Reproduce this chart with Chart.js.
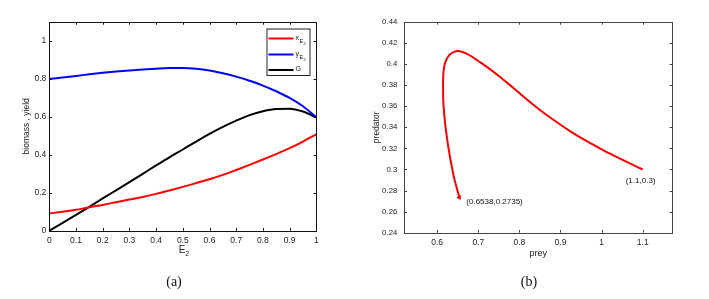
<!DOCTYPE html>
<html><head><meta charset="utf-8">
<script src="https://cdn.jsdelivr.net/npm/chart.js@4.4.0/dist/chart.umd.min.js"></script>
<style>
html,body{margin:0;padding:0;background:#fff;}
#wrap{position:relative;width:709px;height:299px;overflow:hidden;background:#fff;}
canvas{position:absolute;top:0;}
.cap{position:absolute;font-family:'Liberation Serif','Times New Roman',serif;font-size:14px;color:#111;top:274px;width:40px;text-align:center;}
</style></head><body>
<div id="wrap">
<canvas id="c1" width="355" height="299" style="left:0"></canvas>
<canvas id="c2" width="354" height="299" style="left:355px"></canvas>
<div class="cap" style="left:154px">(a)</div>
<div class="cap" style="left:509px">(b)</div>
</div>
<script>
// ---------- Panel (a) data ----------
const E2 = [0,0.05,0.1,0.15,0.2,0.25,0.3,0.35,0.4,0.45,0.5,0.55,0.6,0.65,0.7,0.75,0.8,0.85,0.9,0.95,1];
const xE2 = [0.091,0.100,0.110,0.124,0.136,0.150,0.164,0.178,0.194,0.212,0.231,0.251,0.271,0.294,0.320,0.347,0.375,0.404,0.435,0.470,0.508];
const yE2 = [0.800,0.808,0.816,0.824,0.832,0.839,0.845,0.850,0.854,0.857,0.857,0.853,0.844,0.830,0.812,0.790,0.765,0.735,0.700,0.656,0.598];
const G   = [0.000,0.041,0.083,0.126,0.170,0.213,0.256,0.300,0.344,0.387,0.428,0.470,0.510,0.547,0.580,0.609,0.630,0.642,0.643,0.628,0.598];
const legendMain = ['x','y','G'];
const legendSub  = ['E','E',''];
const legendSub2 = ['2','2',''];
const xTicksA = [0,0.1,0.2,0.3,0.4,0.5,0.6,0.7,0.8,0.9,1];
const yTicksA = [0,0.2,0.4,0.6,0.8,1];

// ---------- Panel (b) data ----------
const prey = [1.1,1.075,1.05,1.025,1.0,0.975,0.95,0.925,0.9,0.875,0.85,0.825,0.8,0.775,0.75,0.725,0.7,
  0.685,0.67,0.66,0.65,0.641,0.633,0.626,0.621,0.6175,0.6155,0.6146,0.6143,0.6144,0.6148,0.6158,0.6172,
  0.619,0.621,0.6235,0.626,0.629,0.632,0.6355,0.639,0.643,0.648,0.6538];
const predator = [0.3000,0.3046,0.3093,0.3142,0.3192,0.3245,0.3300,0.3360,0.3425,0.3493,0.3565,0.3643,0.3725,0.3808,0.3888,0.3962,0.4030,
  0.4070,0.4102,0.4117,0.4124,0.4117,0.4098,0.4068,0.4030,0.3985,0.3930,0.3870,0.3800,0.3730,0.3660,0.3590,0.3520,
  0.3450,0.3380,0.3310,0.3240,0.3170,0.3100,0.3030,0.2960,0.2890,0.2820,0.2735];
const annotText = ['(0.6538,0.2735)','(1.1,0.3)'];
const annotPrey = [0.6538,1.1];
const annotPred = [0.2735,0.3];
const xTicksB = [0.6,0.7,0.8,0.9,1,1.1];
const yTicksB = [0.24,0.26,0.28,0.3,0.32,0.34,0.36,0.38,0.4,0.42,0.44];

const FONT = "'Liberation Sans', Arial, Helvetica, sans-serif";
const fmt = v => String(+(+v).toFixed(4));

function framePlugin(color, tl){
  return {id:'frame', afterDatasetsDraw(chart){
    const {ctx, chartArea:a, scales} = chart;
    ctx.save();
    ctx.strokeStyle = color; ctx.lineWidth = 1;
    ctx.beginPath();
    scales.x.ticks.forEach(t=>{
      const p = Math.round(scales.x.getPixelForValue(t.value))+0.5;
      ctx.moveTo(p,a.bottom); ctx.lineTo(p,a.bottom-tl);
      ctx.moveTo(p,a.top); ctx.lineTo(p,a.top+tl);
    });
    scales.y.ticks.forEach(t=>{
      const p = Math.round(scales.y.getPixelForValue(t.value))+0.5;
      ctx.moveTo(a.left,p); ctx.lineTo(a.left+tl,p);
      ctx.moveTo(a.right,p); ctx.lineTo(a.right-tl,p);
    });
    ctx.stroke();
    ctx.strokeRect(Math.round(a.left)+0.5, Math.round(a.top)+0.5, Math.round(a.right-a.left), Math.round(a.bottom-a.top));
    ctx.restore();
  }};
}

function mkScale(ticksArr, min, max, pos, size, pad, fs){
  return {
    type:'linear', position:pos, min:min, max:max,
    grid:{display:false, drawTicks:false},
    border:{display:false},
    afterBuildTicks: s => { s.ticks = ticksArr.map(v=>({value:v})); },
    afterFit: s => { if(pos==='left') s.width = size; else s.height = size; },
    ticks:{font:{family:FONT,size:fs}, color:'#222', padding:pad, callback:fmt, maxRotation:0, autoSkip:false}
  };
}

// ---------- Chart (a) ----------
const colorsA = ['#ff0000','#0000ff','#000000'];
const seriesA = [xE2, yE2, G];
const labelsA = ['x_E2','y_E2','G'];

const textPluginA = {id:'textA', afterDraw(chart){
  const {ctx, chartArea:a} = chart;
  ctx.save();
  ctx.fillStyle = '#222';
  ctx.font = `8.5px ${FONT}`;
  ctx.textAlign='center'; ctx.textBaseline='middle';
  ctx.translate(26.5,(a.top+a.bottom)/2); ctx.rotate(-Math.PI/2);
  ctx.fillText('biomass , yield',0,0);
  ctx.setTransform(1,0,0,1,0,0);
  const cx = (a.left+a.right)/2;
  ctx.font = `10px ${FONT}`; ctx.textAlign='right'; ctx.textBaseline='alphabetic';
  ctx.fillText('E', cx+2.5, 253);
  ctx.font = `7px ${FONT}`; ctx.textAlign='left';
  ctx.fillText('2', cx+2.5, 256);
  // legend
  const bx=266.5, by=28.5, bw=43, bh=46.5;
  ctx.fillStyle='#fff'; ctx.fillRect(bx,by,bw,bh);
  ctx.strokeStyle='#222'; ctx.lineWidth=1; ctx.strokeRect(bx+0.5,by+0.5,bw,bh);
  const rows=[38.5,54.5,70];
  chart.data.datasets.forEach((ds,i)=>{
    const y=rows[i];
    ctx.strokeStyle=ds.borderColor; ctx.lineWidth=2;
    ctx.beginPath(); ctx.moveTo(268.5,y); ctx.lineTo(293.5,y); ctx.stroke();
    ctx.fillStyle='#111'; ctx.textAlign='left'; ctx.textBaseline='middle';
    ctx.font = `7px ${FONT}`;
    ctx.fillText(legendMain[i],295.5,y-0.5);
    if(legendSub[i]){
      ctx.font = `5.5px ${FONT}`; ctx.fillText(legendSub[i],299.5,y+3);
      ctx.font = `4px ${FONT}`; ctx.fillText(legendSub2[i],303.5,y+5);
    }
  });
  ctx.restore();
}};

new Chart(document.getElementById('c1'), {
  type:'scatter',
  data:{datasets: seriesA.map((s,i)=>({
    label: labelsA[i],
    data: E2.map((e,j)=>({x:e, y:s[j]})),
    showLine:true, borderColor:colorsA[i], backgroundColor:colorsA[i],
    borderWidth:2, pointRadius:0, cubicInterpolationMode:'monotone', clip:false
  }))},
  options:{
    responsive:false, animation:false, devicePixelRatio:1,
    layout:{padding:{left:0,right:38.7,top:22,bottom:0}},
    plugins:{legend:{display:false}, tooltip:{enabled:false}},
    scales:{
      x: mkScale(xTicksA,0,1,'bottom',68.3,5,8.5),
      y: mkScale(yTicksA,0,1.1,'left',49.3,3,8.5)
    }
  },
  plugins:[framePlugin('#111',2.7), textPluginA]
});

// ---------- Chart (b) ----------
const n = prey.length;
const textPluginB = {id:'textB', afterDraw(chart){
  const {ctx, chartArea:a, scales} = chart;
  ctx.save();
  ctx.fillStyle='#222';
  ctx.font = `8.5px ${FONT}`;
  ctx.textAlign='center'; ctx.textBaseline='middle';
  ctx.translate(21.7,(a.top+a.bottom)/2); ctx.rotate(-Math.PI/2);
  ctx.fillText('predator',0,0);
  ctx.setTransform(1,0,0,1,0,0);
  ctx.font = `9px ${FONT}`;
  ctx.fillText('prey',(a.left+a.right)/2,254);
  ctx.fillStyle='#111';
  ctx.font = `8px ${FONT}`; ctx.textAlign='left';
  const offs=[[7,4.5],[-17,11.5]];
  annotText.forEach((t,i)=>{
    const px=scales.x.getPixelForValue(annotPrey[i]);
    const py=scales.y.getPixelForValue(annotPred[i]);
    ctx.fillText(t, px+offs[i][0], py+offs[i][1]);
  });
  ctx.restore();
}};

new Chart(document.getElementById('c2'), {
  type:'scatter',
  data:{datasets:[{
    label:'trajectory',
    data: prey.map((p,j)=>({x:p, y:predator[j]})),
    showLine:true, borderColor:'#ff0000', backgroundColor:'#ff0000',
    borderWidth:2, tension:0.3, clip:false,
    pointRadius: ctx => ctx.dataIndex===n-1 ? 3 : 0,
    pointStyle:'triangle', rotation:155, pointBorderWidth:0
  }]},
  options:{
    responsive:false, animation:false, devicePixelRatio:1,
    layout:{padding:{left:0,right:36.7,top:22,bottom:0}},
    plugins:{legend:{display:false}, tooltip:{enabled:false}},
    scales:{
      x: mkScale(xTicksB,0.52,1.172,'bottom',66.3,5,8.5),
      y: mkScale(yTicksB,0.24,0.44,'left',49.3,7,7.8)
    }
  },
  plugins:[framePlugin('#444',2.7), textPluginB]
});
</script>
</body></html>
